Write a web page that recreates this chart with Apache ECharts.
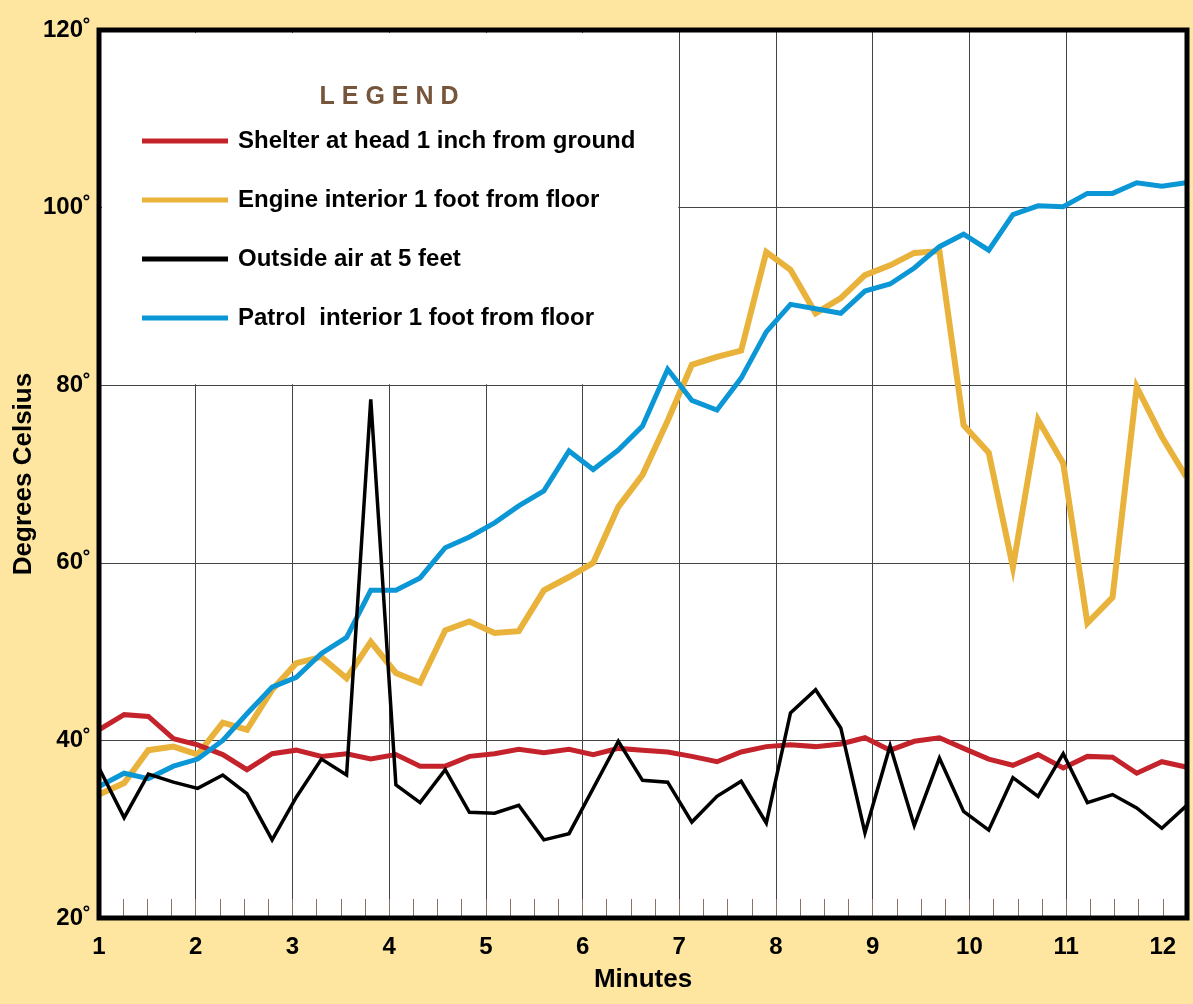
<!DOCTYPE html>
<html lang="en">
<head>
<meta charset="UTF-8">
<title>Temperatures over time</title>
<style>
    * { margin: 0; padding: 0; }
    body { background: #fee6a0; }
    #chart { width: 1193px; height: 1004px; }
</style>
<script src="https://cdn.jsdelivr.net/npm/echarts@6/dist/echarts.min.js"></script>
</head>
<body>
<div id="chart"></div>
<script>
// readings every ~15 s
var minutes = [1.00, 1.26, 1.51, 1.77, 2.02, 2.28, 2.53, 2.79, 3.04, 3.30, 3.56, 3.81,
               4.07, 4.32, 4.58, 4.83, 5.09, 5.34, 5.60, 5.86, 6.11, 6.37, 6.62, 6.88,
               7.13, 7.39, 7.64, 7.90, 8.15, 8.41, 8.67, 8.92, 9.18, 9.43, 9.69, 9.94,
               10.20, 10.45, 10.71, 10.97, 11.22, 11.48, 11.73, 11.99, 12.24];

var shelter = [41.2, 42.9, 42.7, 40.2, 39.5, 38.4, 36.7, 38.5, 38.9, 38.2, 38.5, 37.9,
               38.4, 37.1, 37.1, 38.2, 38.5, 39.0, 38.6, 39.0, 38.4, 39.1, 38.9, 38.7,
               38.2, 37.6, 38.7, 39.3, 39.5, 39.3, 39.6, 40.3, 38.9, 39.9, 40.3, 39.1,
               37.9, 37.2, 38.4, 36.9, 38.2, 38.1, 36.3, 37.6, 37.0];

var engine = [33.9, 35.2, 38.9, 39.3, 38.4, 42.0, 41.2, 45.7, 48.7, 49.4, 47.0, 51.1,
              47.6, 46.5, 52.4, 53.4, 52.1, 52.3, 56.9, 58.4, 60.0, 66.3, 69.9, 76.0,
              82.3, 83.2, 83.9, 95.0, 93.0, 88.1, 89.8, 92.4, 93.5, 94.9, 95.1, 75.5,
              72.4, 59.5, 76.1, 71.2, 53.2, 56.1, 79.8, 74.2, 69.7];

var outside = [36.9, 31.3, 36.2, 35.3, 34.6, 36.1, 34.0, 28.8, 33.6, 37.9, 36.1, 78.4,
               35.0, 33.0, 36.7, 31.9, 31.8, 32.7, 28.8, 29.5, 34.6, 39.9, 35.5, 35.3,
               30.8, 33.7, 35.4, 30.7, 43.1, 45.7, 41.4, 29.6, 39.4, 30.4, 38.0, 32.0,
               29.9, 35.8, 33.7, 38.5, 33.0, 33.9, 32.4, 30.1, 32.6];

var patrol = [34.8, 36.3, 35.7, 37.1, 37.9, 40.0, 43.0, 46.0, 47.1, 49.8, 51.6, 56.9,
              56.9, 58.3, 61.7, 62.9, 64.5, 66.4, 68.1, 72.6, 70.5, 72.7, 75.4, 81.8,
              78.3, 77.2, 80.8, 86.0, 89.1, 88.6, 88.1, 90.6, 91.4, 93.2, 95.6, 97.0,
              95.2, 99.2, 100.2, 100.1, 101.6, 101.6, 102.8, 102.4, 102.8];

var xLabels = [1, 2, 3, 4, 5, 6, 7, 8, 9, 10, 11, 12];
var yLabels = [20, 40, 60, 80, 100, 120];

var seriesNames = ['Shelter at head 1 inch from ground', 'Engine interior 1 foot from floor',
                   'Outside air at 5 feet', 'Patrol  interior 1 foot from floor'];
var seriesColors = ['#c4232b', '#e9b23a', '#000000', '#0b96d6'];

var FONT = '"Liberation Sans", Arial, Helvetica, sans-serif';
var GRID = { left: 99, top: 30, width: 1088, height: 888 };

function pairs(ys) {
    return minutes.map(function (m, i) { return [m, ys[i]]; });
}

// split line every quarter minute, only whole minutes 2..11 visible (12 has just a tick)
var xLineColors = [];
for (var k = 0; k <= 45; k++) {
    var v = 1 + k * 0.25;
    xLineColors.push(k % 4 === 0 && v > 1 && v < 12 ? '#444' : 'rgba(0,0,0,0)');
}

function line(name, data, color, width, z) {
    return {
        name: name,
        type: 'line',
        data: pairs(data),
        showSymbol: false,
        symbol: 'none',
        z: z,
        lineStyle: { color: color, width: width, join: 'miter' },
        itemStyle: { color: color },
        animation: false
    };
}

var chart = echarts.init(document.getElementById('chart'));

var option = {
    backgroundColor: '#fee6a0',
    animation: false,
    textStyle: { fontFamily: FONT },
    grid: {
        left: GRID.left, top: GRID.top, width: GRID.width, height: GRID.height,
        containLabel: false,
        outerBoundsMode: 'none',
        show: true, backgroundColor: '#fff', borderWidth: 0
    },
    xAxis: {
        type: 'value',
        min: 1,
        max: 12.25,
        interval: 0.25,
        axisLine: { show: false },
        axisTick: { show: true, inside: true, length: 19, lineStyle: { color: '#8c7262', width: 1 } },
        axisLabel: {
            margin: 17,
            fontSize: 24,
            fontWeight: 'bold',
            color: '#000',
            fontFamily: FONT,
            formatter: function (v) { return xLabels.indexOf(v) >= 0 ? String(v) : ''; }
        },
        splitLine: { show: true, lineStyle: { color: xLineColors, width: 1 } },
        name: 'Minutes',
        nameLocation: 'middle',
        nameGap: 49,
        nameMoveOverlap: false,
        nameTextStyle: { fontSize: 26, fontWeight: 'bold', color: '#000', fontFamily: FONT }
    },
    yAxis: {
        type: 'value',
        min: 20,
        max: 120,
        interval: 20,
        axisLine: { show: false },
        axisTick: { show: false },
        axisLabel: {
            margin: 8,
            fontSize: 24,
            fontWeight: 'bold',
            color: '#000',
            fontFamily: FONT,
            formatter: function (v) { return yLabels.indexOf(v) >= 0 ? v + '˚' : ''; }
        },
        splitLine: { show: true, lineStyle: { color: '#444', width: 1 } },
        name: 'Degrees Celsius',
        nameLocation: 'middle',
        nameRotate: 90,
        nameGap: 62,
        nameMoveOverlap: false,
        nameTextStyle: { fontSize: 26, fontWeight: 'bold', color: '#000', fontFamily: FONT }
    },
    series: [
        line(seriesNames[1], engine, seriesColors[1], 6, 2),
        line(seriesNames[0], shelter, seriesColors[0], 5, 3),
        line(seriesNames[3], patrol, seriesColors[3], 5, 4),
        line(seriesNames[2], outside, seriesColors[2], 3.5, 5)
    ]
};

chart.setOption(option);

// white legend area: blanks the grid left of 7 min and above 80 degrees
var corner = chart.convertToPixel({ gridIndex: 0 }, [7, 80]);
var gfx = [{
    type: 'rect',
    z: 1,
    silent: true,
    shape: { x: GRID.left + 3, y: GRID.top + 3, width: corner[0] - 1 - (GRID.left + 3), height: corner[1] - 1 - (GRID.top + 3) },
    style: { fill: '#fff' }
}, {
    type: 'rect',
    z: 20,
    silent: true,
    shape: { x: GRID.left, y: GRID.top, width: GRID.width, height: GRID.height },
    style: { fill: 'none', stroke: '#000', lineWidth: 5 }
}, {
    type: 'text',
    z: 20,
    x: 389, y: 97,
    style: {
        text: 'L E G E N D', fill: '#76553a',
        font: 'bold 25px ' + FONT, textAlign: 'center', textVerticalAlign: 'middle'
    }
}];

var legendRows = [141, 200, 259, 318];
[0, 1, 2, 3].forEach(function (i) {
    gfx.push({
        type: 'line', z: 20, silent: true,
        shape: { x1: 142, y1: legendRows[i], x2: 228, y2: legendRows[i] },
        style: { stroke: seriesColors[i], lineWidth: 5 }
    });
    gfx.push({
        type: 'text', z: 20, silent: true,
        x: 238, y: legendRows[i],
        style: {
            text: seriesNames[i], fill: '#000',
            font: 'bold 24px ' + FONT, textAlign: 'left', textVerticalAlign: 'middle'
        }
    });
});

chart.setOption({ graphic: gfx });
</script>
</body>
</html>
